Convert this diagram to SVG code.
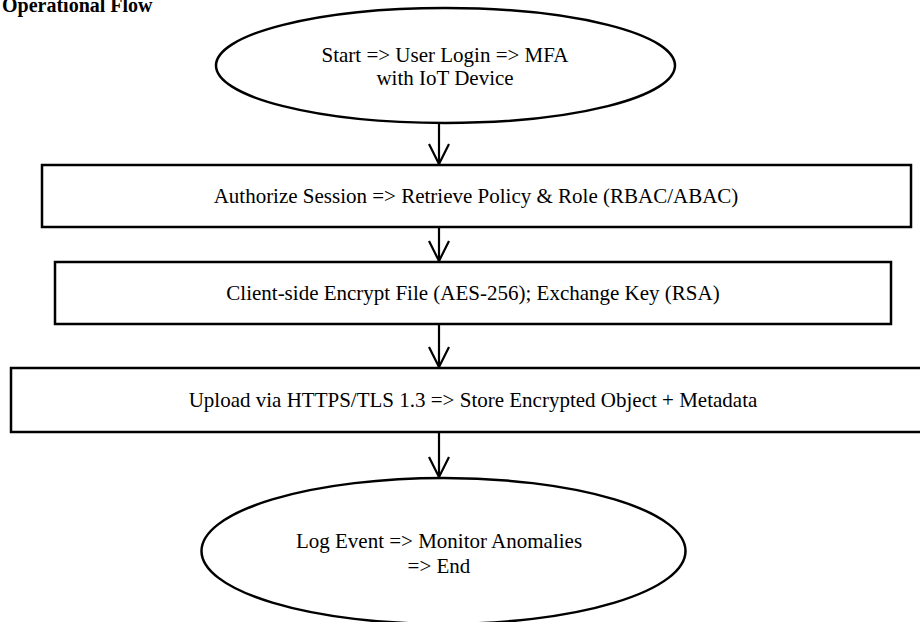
<svg xmlns="http://www.w3.org/2000/svg" width="920" height="622" viewBox="0 0 920 622">
<defs>
<style>
.node{fill:#fff;stroke:#000;stroke-width:2.5}
.t{font-family:"Liberation Serif","Times New Roman",serif;font-size:21px;fill:#000;text-anchor:middle}
.title{font-family:"Liberation Serif","Times New Roman",serif;font-size:20px;font-weight:bold;fill:#000}
.edge{stroke:#000;stroke-width:2.2;fill:none}
</style>
<marker id="arr" viewBox="0 0 22 24" refX="21" refY="12" markerWidth="22" markerHeight="24" markerUnits="userSpaceOnUse" orient="auto">
<path d="M1,2 L21,12 L1,22" fill="none" stroke="#000" stroke-width="2.2"/>
</marker>
</defs>
<rect width="920" height="622" fill="#fff"/>
<text class="title" x="2" y="12" font-family="Liberation Serif, serif">Operational Flow</text>
<g id="connectors">
<line class="edge" x1="439" y1="124" x2="439" y2="164" marker-end="url(#arr)"/>
<line class="edge" x1="439" y1="228" x2="439" y2="261" marker-end="url(#arr)"/>
<line class="edge" x1="439" y1="325" x2="439" y2="367" marker-end="url(#arr)"/>
<line class="edge" x1="439" y1="433" x2="439" y2="477" marker-end="url(#arr)"/>
</g>
<g id="n1">
<ellipse class="node" cx="445.5" cy="65.5" rx="229.5" ry="57.5"/>
<text class="t" x="445" y="62" font-family="Liberation Serif, serif">Start =&gt; User Login =&gt; MFA</text>
<text class="t" x="445" y="85" font-family="Liberation Serif, serif">with IoT Device</text>
</g>
<g id="n2">
<rect class="node" x="42" y="165" width="869" height="62"/>
<text class="t" x="476" y="203" font-family="Liberation Serif, serif">Authorize Session =&gt; Retrieve Policy &amp; Role (RBAC/ABAC)</text>
</g>
<g id="n3">
<rect class="node" x="55" y="262" width="836" height="62"/>
<text class="t" x="473" y="300" font-family="Liberation Serif, serif">Client-side Encrypt File (AES-256); Exchange Key (RSA)</text>
</g>
<g id="n4">
<rect class="node" x="11" y="368" width="930" height="64"/>
<text class="t" x="473" y="407" font-family="Liberation Serif, serif">Upload via HTTPS/TLS 1.3 =&gt; Store Encrypted Object + Metadata</text>
</g>
<g id="n5">
<ellipse class="node" cx="443.5" cy="551" rx="242" ry="73"/>
<text class="t" x="439" y="548" font-family="Liberation Serif, serif">Log Event =&gt; Monitor Anomalies</text>
<text class="t" x="439" y="573" font-family="Liberation Serif, serif">=&gt; End</text>
</g>
</svg>
